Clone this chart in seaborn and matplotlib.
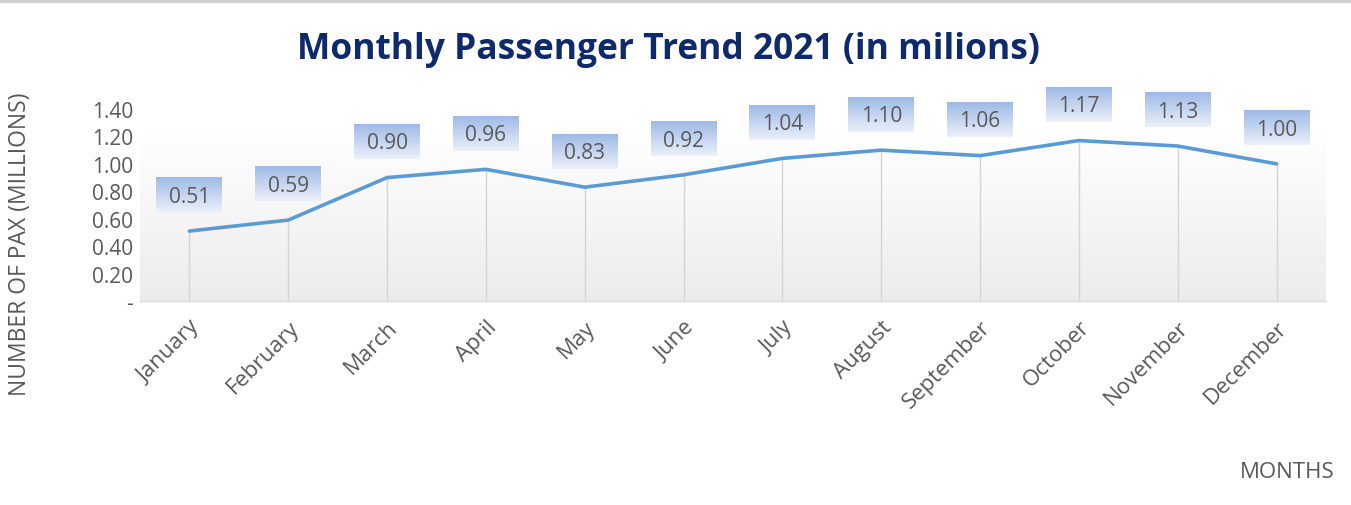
import numpy as np
import pandas as pd
import matplotlib
matplotlib.use("Agg")
import matplotlib.pyplot as plt
from matplotlib.offsetbox import OffsetImage, AnnotationBbox
import seaborn as sns

months = ["January", "February", "March", "April", "May", "June", "July",
          "August", "September", "October", "November", "December"]
pax = [0.51, 0.59, 0.90, 0.96, 0.83, 0.92, 1.04, 1.10, 1.06, 1.17, 1.13, 1.00]
ytick_vals = [0, 0.2, 0.4, 0.6, 0.8, 1.0, 1.2, 1.4]
ytick_labels = ["-", "0.20", "0.40", "0.60", "0.80", "1.00", "1.20", "1.40"]

title = "Monthly Passenger Trend 2021 (in milions)"
ylabel = "NUMBER OF PAX (MILLIONS)"
xlabel = "MONTHS"

sns.set_style("white")
plt.rcParams["font.family"] = ["Open Sans", "DejaVu Sans"]

DPI = 100
fig = plt.figure(figsize=(13.51, 5.06), dpi=DPI)
ax = fig.add_axes([140 / 1351, 1 - 302 / 506, (1326 - 140) / 1351, (302 - 110) / 506])

df = pd.DataFrame({"month": months, "pax": pax, "pos": np.arange(len(months))})

# gradient background of plot area
grad = np.linspace(0, 1, 256).reshape(-1, 1)
top_c = np.array([1.0, 1.0, 1.0])
bot_c = np.array([0.925, 0.925, 0.925])
img = top_c[None, None, :] * (1 - grad[:, :, None]) + bot_c[None, None, :] * grad[:, :, None]
ax.imshow(img, extent=[0, 1, 0, 0.88], transform=ax.transAxes, aspect="auto", zorder=0)

# drop lines
ax.vlines(df["pos"], 0, df["pax"], color="#d4d4d4", lw=1.0, zorder=1)

sns.lineplot(data=df, x="pos", y="pax", ax=ax, color="#5b9bd5", lw=2.6,
             zorder=3, legend=False)

ax.set_xlim(-0.5, len(months) - 0.5)
ax.set_ylim(0, 1.4)
ax.set_xticks(df["pos"])
ax.set_xticklabels(months, rotation=45, ha="right", rotation_mode="anchor",
                   fontsize=16, color="#595959")
ax.set_yticks(ytick_vals)
ax.set_yticklabels(ytick_labels, fontsize=15, color="#595959")
ax.tick_params(axis="x", length=0, pad=11)
ax.tick_params(axis="y", length=0, pad=5)
for s in ["top", "right", "left"]:
    ax.spines[s].set_visible(False)
ax.spines["bottom"].set_color("#d9d9d9")
ax.spines["bottom"].set_linewidth(1.0)
ax.set_xlabel("")
ax.set_ylabel("")

# data label boxes with blue gradient
bw, bh = 66, 35
g = np.linspace(0, 1, bh).reshape(-1, 1)
c_top = np.array([0.62, 0.73, 0.90])
c_bot = np.array([0.92, 0.94, 0.98])
box = c_top[None, None, :] * (1 - g[:, :, None]) + c_bot[None, None, :] * g[:, :, None]
box = np.repeat(box, bw, axis=1)
for xv, yv in zip(df["pos"], df["pax"]):
    oi = OffsetImage(box, zoom=72 / DPI)
    ab = AnnotationBbox(oi, (xv, yv), xybox=(0, 26), boxcoords="offset points",
                        frameon=False, zorder=4)
    ax.add_artist(ab)
    ax.annotate(f"{yv:.2f}", (xv, yv), xytext=(0, 25), textcoords="offset points",
                ha="center", va="center", fontsize=15, color="#595959", zorder=5)

fig.text(668 / 1351, 1 - 50 / 506, title, ha="center", va="center",
         fontsize=25.5, fontweight="bold", color="#0e2a6b")
fig.text(20 / 1351, 1 - 244 / 506, ylabel, ha="center", va="center",
         rotation=90, fontsize=16.5, color="#595959")
fig.text(1335 / 1351, 1 - 472 / 506, xlabel, ha="right", va="center",
         fontsize=16, color="#595959")

# top border line
fig.add_artist(plt.Line2D([0, 1], [0.997, 0.997], color="#d0d0d0", lw=3,
                          transform=fig.transFigure))

fig.savefig("out.png", dpi=DPI)
